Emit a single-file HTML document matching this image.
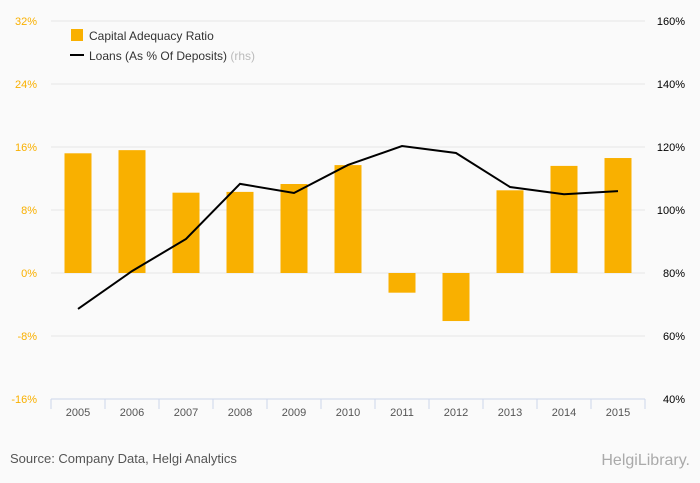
<!DOCTYPE html>
<html><head><meta charset="utf-8"><style>
body{margin:0;background:#fafafa;font-family:"Liberation Sans",sans-serif;}
svg{display:block}
</style></head><body>
<svg width="700" height="483" xmlns="http://www.w3.org/2000/svg">
<rect width="700" height="483" fill="#fafafa"/>
<g id="grid"></g><g id="bars"></g><g id="line"></g><g id="axes"></g>
<g>
<rect x="71" y="29" width="12" height="12" fill="#f9b000"/>
<text x="89" y="40" font-size="12" fill="#333">Capital Adequacy Ratio</text>
<line x1="70" y1="55" x2="84" y2="55" stroke="#000" stroke-width="2"/>
<text x="89" y="60" font-size="12" fill="#333">Loans (As % Of Deposits) <tspan fill="#bbb">(rhs)</tspan></text>
</g>
<text x="10" y="463" font-size="13" fill="#555">Source: Company Data, Helgi Analytics</text>
<text x="690" y="465" font-size="16" fill="#aaa" text-anchor="end">HelgiLibrary.</text>
</svg>
<script>
const years=['2005','2006','2007','2008','2009','2010','2011','2012','2013','2014','2015'];
const car=[15.2,15.6,10.2,10.3,11.3,13.7,-2.5,-6.1,10.5,13.6,14.6];
const loans=[68.6,80.6,90.8,108.3,105.4,114.3,120.3,118.1,107.3,105,106];
const leftTicks=[-16,-8,0,8,16,24,32];
const rightTicks=[40,60,80,100,120,140,160];
const NS='http://www.w3.org/2000/svg';
const x0=51,x1=645,yT=21,yB=399,bw=(x1-x0)/years.length;
const yL=v=>yB-(v+16)/48*(yB-yT);
const yR=v=>yB-(v-40)/120*(yB-yT);
const xc=i=>x0+bw*(i+0.5);
function mk(t,a,p){const e=document.createElementNS(NS,t);for(const k in a)e.setAttribute(k,a[k]);document.getElementById(p).appendChild(e);return e;}
leftTicks.forEach((v,i)=>{
 if(v!==-16){const g=mk('line',{x1:x0,x2:x1,y1:yL(v),y2:yL(v),stroke:'#e6e6e6'},'grid');
 
 }
 const t=mk('text',{x:37,y:yL(v)+4,'font-size':11,fill:'#f9b000','text-anchor':'end'},'axes');t.textContent=v+'%';
 
 
});
rightTicks.forEach(v=>{
 const t=mk('text',{x:685,y:yR(v)+4,'font-size':11,fill:'#000','text-anchor':'end'},'axes');t.textContent=v+'%';
 
 
});
mk('line',{x1:x0,x2:x1,y1:yB,y2:yB,stroke:'#ccd6eb'},'axes');
for(let i=0;i<=years.length;i++){const l=mk('line',{x1:x0+bw*i,x2:x0+bw*i,y1:yB,y2:yB+10,stroke:'#ccd6eb'},'axes');
 
 }
years.forEach((y,i)=>{
 const t=mk('text',{x:xc(i),y:yB+17,'font-size':11,fill:'#555','text-anchor':'middle'},'axes');t.textContent=y;
 
 
 const v=car[i],top=Math.min(yL(v),yL(0)),h=Math.abs(yL(v)-yL(0));
 const b=mk('rect',{x:xc(i)-13.5,y:top,width:27,height:h,fill:'#f9b000'},'bars');
 
 
});
const p=mk('polyline',{points:loans.map((v,i)=>xc(i)+','+yR(v)).join(' '),fill:'none',stroke:'#000','stroke-width':2},'line');


</script>
</body></html>
